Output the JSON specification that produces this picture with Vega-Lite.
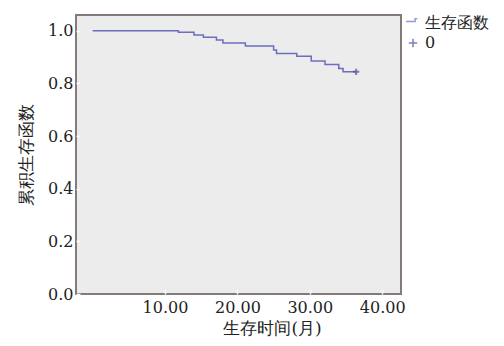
{
  "$schema": "https://vega.github.io/schema/vega-lite/v6.json",
  "width": 325,
  "height": 279,
  "autosize": "none",
  "padding": {"left": 76, "top": 15, "right": 103, "bottom": 52},
  "background": "white",
  "config": {
    "view": {"fill": "#ececec", "stroke": "#857a7a", "strokeWidth": 2},
    "font": "DejaVu Serif",
    "axis": {
      "domain": false,
      "grid": false,
      "labelFont": "DejaVu Serif",
      "labelFontSize": 16,
      "labelColor": "#222222",
      "titleFont": "DejaVu Serif",
      "titleFontSize": 17,
      "titleFontWeight": "normal",
      "titleColor": "#222222",
      "tickColor": "#ffffff",
      "tickSize": -4,
      "tickWidth": 1.5
    },
    "legend": {
      "labelFont": "DejaVu Serif",
      "labelFontSize": 16,
      "labelColor": "#222222"
    }
  },
  "datasets": {
    "curve": [
      {"t": 0, "s": 1.0, "series": "生存函数"},
      {"t": 11.85, "s": 0.994, "series": "生存函数"},
      {"t": 14.0, "s": 0.984, "series": "生存函数"},
      {"t": 15.3, "s": 0.975, "series": "生存函数"},
      {"t": 17.1, "s": 0.965, "series": "生存函数"},
      {"t": 18.0, "s": 0.954, "series": "生存函数"},
      {"t": 21.1, "s": 0.942, "series": "生存函数"},
      {"t": 25.0, "s": 0.927, "series": "生存函数"},
      {"t": 25.4, "s": 0.914, "series": "生存函数"},
      {"t": 28.2, "s": 0.903, "series": "生存函数"},
      {"t": 30.2, "s": 0.885, "series": "生存函数"},
      {"t": 32.1, "s": 0.872, "series": "生存函数"},
      {"t": 34.0, "s": 0.857, "series": "生存函数"},
      {"t": 34.6, "s": 0.844, "series": "生存函数"},
      {"t": 36.4, "s": 0.844, "series": "生存函数"}
    ],
    "censor": [
      {"t": 36.4, "s": 0.844, "series": "0"}
    ]
  },
  "layer": [
    {
      "data": {"name": "curve"},
      "mark": {"type": "line", "interpolate": "step-after", "strokeWidth": 1.5},
      "encoding": {
        "x": {
          "field": "t", "type": "quantitative",
          "scale": {"domain": [-2.3, 42.6], "nice": false, "zero": false},
          "axis": {"values": [10, 20, 30, 40], "format": ".2f", "title": "生存时间(月)", "labelPadding": 9, "titlePadding": 5, "titleX": 196}
        },
        "y": {
          "field": "s", "type": "quantitative",
          "scale": {"domain": [0, 1.06], "nice": false},
          "axis": {"values": [0, 0.2, 0.4, 0.6, 0.8, 1.0], "format": ".1f", "title": "累积生存函数", "labelPadding": 7, "titlePadding": 12}
        },
        "color": {
          "field": "series", "type": "nominal",
          "scale": {"domain": ["生存函数", "0"], "range": ["#6d6dbd", "#4a4aa0"]},
          "legend": {"title": null, "orient": "right", "offset": 4, "symbolStrokeWidth": 1.5, "symbolSize": 200, "rowPadding": 4, "padding": 0}
        }
      }
    },
    {
      "data": {"name": "censor"},
      "mark": {"type": "point", "filled": false, "strokeWidth": 2, "size": 110},
      "encoding": {
        "x": {"field": "t", "type": "quantitative"},
        "y": {"field": "s", "type": "quantitative"},
        "color": {"field": "series", "type": "nominal"},
        "shape": {
          "field": "series", "type": "nominal",
          "scale": {"domain": ["生存函数", "0"], "range": ["M-1,-0.2H0.3V-0.6H0.6", "M-0.6,0H0.6M0,-0.6V0.6"]},
          "legend": {"title": null}
        }
      }
    }
  ]
}
